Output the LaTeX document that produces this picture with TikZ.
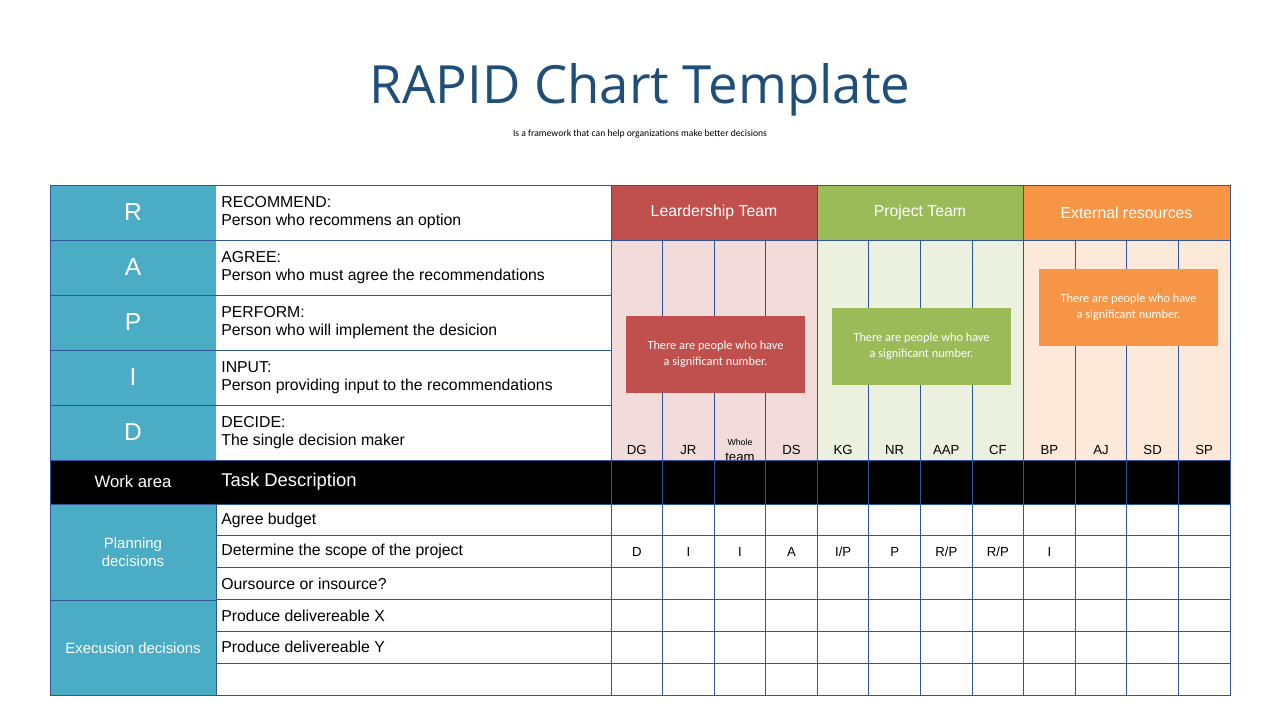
\documentclass[tikz,border=0pt]{standalone}
\usepackage{fontspec}
\setmainfont{Liberation Sans}
\newfontfamily\titlefont{Open Sans}
\newfontfamily\boxfont{Carlito}
\definecolor{teal}{HTML}{4BACC6}
\definecolor{redd}{HTML}{C0504D}
\definecolor{grn}{HTML}{9BBB59}
\definecolor{org}{HTML}{F79646}
\definecolor{redl}{HTML}{F2DCDB}
\definecolor{grnl}{HTML}{EBF1DE}
\definecolor{orgl}{HTML}{FDE9D9}
\definecolor{gridc}{HTML}{2F5597}
\definecolor{ttl}{HTML}{1F4E79}
\begin{document}
\begin{tikzpicture}
	[x=0.02cm,y=-0.02cm,
	cell/.style={draw=gridc,line width=0.5pt},
	lbl/.style={anchor=west,align=left,font=\fontsize{9}{10.5}\selectfont,inner sep=0pt},
	memtxt/.style={font=\fontsize{7.5}{9}\selectfont,inner sep=0pt},
	callout/.style={text=white,align=center,font=\boxfont\fontsize{7}{9}\selectfont,minimum width=3.58cm,minimum height=1.54cm,inner sep=0pt}]
	\useasboundingbox (0,0) rectangle (1280,720);
	\node (title) [text=ttl,font=\titlefont\fontsize{30}{34}\selectfont] at (640,90) {RAPID Chart Template};
	\node (sub) [font=\boxfont\fontsize{5.5}{6}\selectfont] at (640,134) {Is a framework that can help organizations make better decisions};
	% backgrounds
	\fill[redl] (611,240) rectangle (817,460);
	\fill[grnl] (817,240) rectangle (1023,460);
	\fill[orgl] (1023,240) rectangle (1230,460);
	\fill[black] (50,460) rectangle (1230,504);
	% team headers
	\node (lead) [cell,fill=redd,text=white,minimum width=4.12cm,minimum height=1.1cm,font=\fontsize{9}{10}\selectfont] at (714,212.5) {Leardership Team};
	\node (proj) [cell,fill=grn,text=white,minimum width=4.12cm,minimum height=1.1cm,font=\fontsize{9}{10}\selectfont] at (920,212.5) {Project Team};
	\node (ext) [cell,fill=org,text=white,minimum width=4.14cm,minimum height=1.1cm,font=\fontsize{9}{10}\selectfont] at (1126.5,212.5) {External resources};
	% RAPID rows
	\foreach \l/\t/\d [count=\i from 0] in {R/RECOMMEND:/Person who recommens an option,
		A/AGREE:/Person who must agree the recommendations,
		P/PERFORM:/Person who will implement the desicion,
		I/INPUT:/Person providing input to the recommendations,
		D/DECIDE:/The single decision maker}{
		\fill[teal] (50,185+55*\i) rectangle (216,240+55*\i);
		\draw[cell] (50,185+55*\i) rectangle (611,240+55*\i);
		\node (let\l) [text=white,font=\fontsize{14}{16}\selectfont] at (133,212.5+55*\i) {\l};
		\node (txt\l) [lbl] at (221,212.5+55*\i) {\t\\\d};
	}
	% member columns
	\foreach \m [count=\j from 0] in {DG,JR,{\fontsize{5}{5.5}\selectfont Whole\\team},DS,KG,NR,AAP,CF,BP,AJ,SD,SP}{
		\draw[cell] (611+51.583*\j,240) -- (611+51.583*\j,695);
		\node (mem\j) [memtxt,align=center] at (636.8+51.583*\j,450) {\m};
	}
	\draw[cell] (1230,185) -- (1230,695);
	\draw[cell] (611,460) -- (1230,460);
	\draw[cell] (50,185) -- (50,695);
	% task rows
	\node (wa) [text=white,font=\fontsize{9.5}{11}\selectfont] at (133,482) {Work area};
	\node (td) [lbl,text=white,font=\fontsize{10.5}{12}\selectfont] at (221,482) {Task Description};
	\fill[teal] (50,504) rectangle (216,695);
	\foreach \t [count=\k from 0] in {Agree budget,Determine the scope of the project,Oursource or insource?,Produce delivereable X,Produce delivereable Y,{}}{
		\draw[cell] (216,504+31.83*\k) rectangle (1230,535.83+31.83*\k);
		\node (task\k) [lbl] at (221,520+31.83*\k) {\t};
	}
	\draw[cell] (50,504) rectangle (216,600) (50,600) rectangle (216,695);
	\node (plan) [text=white,align=center,font=\fontsize{8.5}{10}\selectfont] at (133,552) {Planning\\decisions};
	\node (exe) [text=white,font=\fontsize{8.5}{10}\selectfont] at (133,648) {Execusion decisions};
	\foreach \v [count=\j from 0] in {D,I,I,A,I/P,P,R/P,R/P,I}{
		\node (val\j) [memtxt] at (636.8+51.583*\j,552) {\v};
	}
	% callouts
	\node (cr) [callout,fill=redd] at (715.5,354.5) {There are people who have\\a significant number.};
	\node (cg) [callout,fill=grn] at (921.5,346.5) {There are people who have\\a significant number.};
	\node (co) [callout,fill=org] at (1128.5,307.5) {There are people who have\\a significant number.};
\end{tikzpicture}
\end{document}
